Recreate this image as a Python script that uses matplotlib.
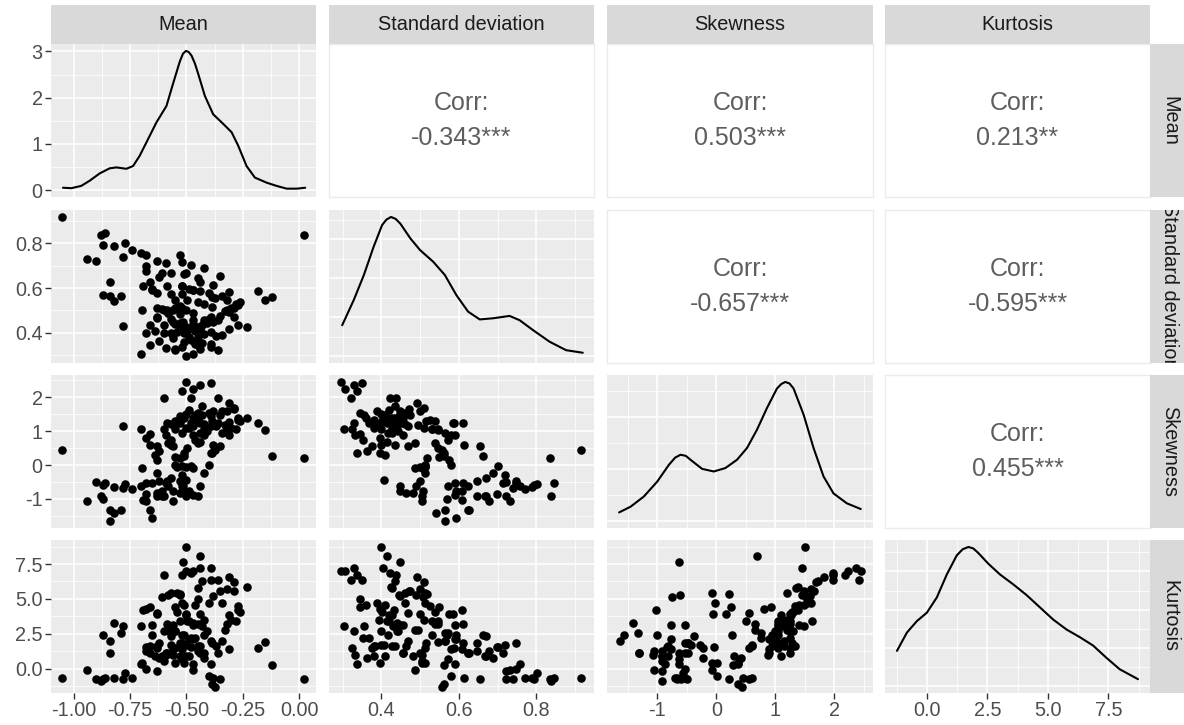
import matplotlib
matplotlib.use('Agg')
import matplotlib.pyplot as plt

plt.rcParams['font.family'] = ['Liberation Sans', 'DejaVu Sans']

W, H = 1184, 725

var_names = ['Mean', 'Standard deviation', 'Skewness', 'Kurtosis']

mean_vals = [
    -1.05, 0.02, -0.12, -0.18, -0.15, -0.23, -0.94, -0.90, -0.88, -0.86,
    -0.87, -0.82, -0.77, -0.74, -0.78, -0.84, -0.84, -0.79, -0.82, -0.78,
    -0.87, -0.70, -0.68, -0.65, -0.63, -0.59, -0.68, -0.68, -0.61, -0.62,
    -0.57, -0.51, -0.53, -0.52, -0.48, -0.42, -0.35, -0.38, -0.44, -0.52,
    -0.69, -0.65, -0.63, -0.585, -0.57, -0.47, -0.40, -0.385, -0.375, -0.495,
    -0.45, -0.42, -0.385, -0.695, -0.63, -0.585, -0.54, -0.63, -0.68, -0.66,
    -0.70, -0.60, -0.56, -0.52, -0.49, -0.47, -0.52, -0.45, -0.50, -0.66,
    -0.515, -0.56, -0.53, -0.50, -0.52, -0.47, -0.55, -0.50, -0.47, -0.44,
    -0.39, -0.52, -0.36, -0.45, -0.43, -0.55, -0.59, -0.39, -0.62, -0.56,
    -0.51, -0.48, -0.45, -0.50, -0.46, -0.48, -0.43, -0.38, -0.40, -0.35,
    -0.31, -0.29, -0.53, -0.60, -0.52, -0.47, -0.42, -0.39, -0.66, -0.63,
    -0.58, -0.57, -0.64, -0.44, -0.33, -0.30, -0.27, -0.26, -0.28, -0.32,
    -0.34, -0.31, -0.44, -0.29, -0.32, -0.39, -0.27, -0.31, -0.34, -0.45,
    -0.53, -0.57, -0.50, -0.55, -0.42, -0.49, -0.47, -0.41, -0.37, -0.44,
    -0.54, -0.36, -0.49, -0.51, -0.46, -0.55, -0.60, -0.61, -0.58, -0.53,
    -0.55, -0.50,
]
sd_vals = [
    0.916, 0.836, 0.561, 0.588, 0.546, 0.424, 0.731, 0.722, 0.837, 0.845,
    0.793, 0.788, 0.803, 0.770, 0.740, 0.625, 0.564, 0.564, 0.542, 0.430,
    0.570, 0.758, 0.748, 0.594, 0.722, 0.713, 0.699, 0.678, 0.669, 0.648,
    0.669, 0.663, 0.748, 0.718, 0.701, 0.688, 0.654, 0.613, 0.625, 0.609,
    0.609, 0.591, 0.576, 0.611, 0.573, 0.591, 0.579, 0.561, 0.556, 0.546,
    0.539, 0.531, 0.516, 0.504, 0.513, 0.501, 0.513, 0.464, 0.397, 0.345,
    0.304, 0.504, 0.504, 0.573, 0.594, 0.590, 0.611, 0.646, 0.667, 0.626,
    0.447, 0.449, 0.483, 0.406, 0.513, 0.487, 0.513, 0.296, 0.307, 0.329,
    0.350, 0.336, 0.322, 0.345, 0.355, 0.329, 0.332, 0.336, 0.364, 0.377,
    0.397, 0.367, 0.380, 0.400, 0.409, 0.423, 0.436, 0.449, 0.462, 0.475,
    0.492, 0.509, 0.415, 0.400, 0.418, 0.440, 0.457, 0.470, 0.436, 0.470,
    0.487, 0.400, 0.409, 0.415, 0.496, 0.509, 0.526, 0.539, 0.530, 0.547,
    0.564, 0.581, 0.586, 0.472, 0.501, 0.404, 0.434, 0.419, 0.390, 0.427,
    0.445, 0.462, 0.427, 0.440, 0.393, 0.419, 0.457, 0.444, 0.384, 0.427,
    0.402, 0.457, 0.382, 0.360, 0.352, 0.325, 0.437, 0.507, 0.490, 0.518,
    0.548, 0.500,
]
skew_vals = [
    0.45, 0.21, 0.28, 1.25, 1.03, 1.38, -1.05, -0.50, -0.92, -0.54,
    -0.60, -0.66, -0.56, -0.70, -0.67, -1.31, -1.64, -1.33, -1.41, 1.15,
    -1.00, -0.63, -0.53, -1.56, -0.92, -0.53, -0.84, -1.05, -0.92, -0.48,
    -0.38, 0.26, -0.48, -0.28, -0.04, -0.23, 0.55, 0.60, -0.63, -0.77,
    -1.03, -0.53, 0.16, 1.24, 0.75, 0.90, 0.01, 0.36, 0.43, 0.50,
    0.65, 1.05, 1.29, -0.08, -0.23, -0.48, -0.07, -0.82, 0.80, 0.93,
    1.05, -0.92, -1.07, -0.63, -0.77, -0.87, -0.53, -0.92, -0.92, -1.31,
    -0.63, -0.77, -0.82, -0.43, -0.02, -0.08, 0.01, 2.45, 2.23, 2.37,
    2.42, 2.18, 1.98, 1.54, 1.49, 1.24, 0.88, 0.36, 0.41, 0.55,
    0.36, 1.24, 1.34, 1.50, 1.49, 1.98, 1.73, 1.59, 1.54, 1.49,
    1.83, 1.69, 1.24, 1.05, 0.95, 1.14, 0.90, 1.14, 0.60, 0.55,
    0.65, 0.60, 0.30, 0.69, 1.19, 1.10, 1.34, 1.29, 1.05, 1.05,
    0.95, 0.90, 1.24, 1.65, 1.60, 1.45, 1.38, 1.27, 1.60, 1.35,
    1.45, 1.20, 1.10, 1.30, 1.20, 1.62, 1.40, 1.00, 1.15, 0.95,
    1.30, 1.25, 1.10, 1.40, 0.75, 1.05, 1.98, -0.75, -0.61, 0.21,
    0.25, -0.05,
]
kurt_vals = [
    -0.64, -0.76, 0.26, 1.50, 1.90, 5.83, -0.05, -0.70, -0.88, -0.69,
    -0.76, -0.64, -0.30, -0.69, -0.76, 1.14, 2.00, 2.57, 3.29, 3.10,
    2.45, 0.31, 0.02, 2.45, -0.17, 1.14, 1.55, 1.26, 0.90, 1.86,
    2.33, 2.45, 1.86, 1.74, 1.55, 0.79, -0.76, -0.64, 1.14, 1.45,
    4.24, 3.17, 3.93, 3.24, 2.57, 2.10, -0.52, -1.07, -1.31, 3.40,
    3.24, 2.45, 1.86, 0.43, 1.50, 1.14, 5.43, 1.62, 4.30, 4.40,
    3.05, 0.55, 1.02, 0.67, 2.10, 0.31, 1.86, 1.26, 0.90, 1.14,
    7.64, 3.17, 0.90, 1.74, 4.71, -0.05, 0.43, 6.98, 6.98, 7.20,
    6.38, 6.74, 6.38, 5.02, 3.05, 2.69, 1.02, 0.31, 0.79, 1.50,
    0.43, 2.21, 1.62, 8.69, 4.60, 6.86, 6.26, 5.19, 4.71, 5.55,
    6.55, 6.21, 3.40, 2.69, 2.45, 3.29, 1.14, 1.98, 1.62, 4.00,
    2.81, 1.74, 0.90, 8.05, 2.81, 3.52, 4.48, 4.07, 3.40, 3.24,
    1.98, 1.45, 3.93, 5.60, 5.74, 7.20, 4.24, 3.88, 4.71, 5.79,
    5.31, 5.43, 3.88, 2.69, 3.52, 3.40, 3.17, 2.69, 1.62, 1.62,
    4.07, 1.14, 0.90, 4.60, 2.21, 1.50, 6.74, 5.12, 5.26, 5.36,
    4.40, 3.93,
]

# density curves
mean_dens_x = [-1.047, -1.010, -0.966, -0.929, -0.884, -0.840, -0.810, -0.766, -0.736, -0.707,
               -0.677, -0.633, -0.588, -0.559, -0.529, -0.515, -0.502, -0.490, -0.477, -0.462,
               -0.447, -0.418, -0.381, -0.336, -0.299, -0.270, -0.233, -0.196, -0.144, -0.100,
               -0.055, -0.010, 0.027]
mean_dens_y = [0.05, 0.04, 0.09, 0.20, 0.36, 0.47, 0.49, 0.46, 0.52, 0.74,
               1.03, 1.46, 1.82, 2.30, 2.78, 2.95, 3.01, 2.99, 2.91, 2.74,
               2.51, 2.04, 1.64, 1.43, 1.25, 0.96, 0.52, 0.27, 0.16, 0.09,
               0.03, 0.03, 0.05]
sd_dens_x = [0.299, 0.329, 0.355, 0.380, 0.402, 0.413, 0.425, 0.437, 0.449, 0.475, 0.500,
             0.534, 0.564, 0.594, 0.624, 0.654, 0.689, 0.731, 0.757, 0.791, 0.834, 0.877, 0.920]
sd_dens_y = [0.79, 1.44, 2.08, 2.80, 3.36, 3.50, 3.57, 3.52, 3.40, 3.02, 2.72,
             2.42, 2.08, 1.56, 1.14, 0.94, 0.97, 1.03, 0.92, 0.67, 0.37, 0.15, 0.085]
skew_dens_x = [-1.65, -1.455, -1.23, -1.004, -0.807, -0.70, -0.609, -0.52, -0.44, -0.243, -0.045,
               0.152, 0.35, 0.519, 0.688, 0.857, 1.027, 1.10, 1.168, 1.24, 1.308, 1.478, 1.647,
               1.816, 1.985, 2.211, 2.448]
skew_dens_y = [0.033, 0.055, 0.094, 0.151, 0.215, 0.243, 0.254, 0.250, 0.235, 0.20, 0.19,
               0.203, 0.235, 0.28, 0.35, 0.433, 0.508, 0.525, 0.533, 0.527, 0.508, 0.408, 0.28,
               0.171, 0.106, 0.068, 0.046]
kurt_dens_x = [-1.236, -0.824, -0.412, 0.0, 0.412, 0.824, 1.236, 1.48, 1.717, 1.92, 2.129, 2.541,
               3.022, 3.571, 4.121, 4.670, 5.220, 5.769, 6.319, 6.868, 7.418, 7.967, 8.723]
kurt_dens_y = [0.046, 0.070, 0.085, 0.096, 0.116, 0.146, 0.171, 0.179, 0.182, 0.180, 0.174, 0.160,
               0.146, 0.133, 0.119, 0.103, 0.087, 0.074, 0.064, 0.053, 0.037, 0.022, 0.009]

corr_labels = ['-0.343***', '0.503***', '0.213**', '-0.657***', '-0.595***', '0.455***']

# axis setup per variable: limits, major ticks, tick labels, minor gridlines
scales = [
    dict(lim=(-1.10, 0.075), major=[-1, -0.75, -0.5, -0.25, 0],
         labels=['-1.00', '-0.75', '-0.50', '-0.25', '0.00'], minor=[-0.875, -0.625, -0.375, -0.125]),
    dict(lim=(0.265, 0.949), major=[0.4, 0.6, 0.8],
         labels=['0.4', '0.6', '0.8'], minor=[0.3, 0.5, 0.7, 0.9]),
    dict(lim=(-1.855, 2.655), major=[-1, 0, 1, 2],
         labels=['-1', '0', '1', '2'], minor=[-1.5, -0.5, 0.5, 1.5, 2.5]),
    dict(lim=(-1.73, 9.22), major=[0, 2.5, 5, 7.5],
         labels=['0.0', '2.5', '5.0', '7.5'], minor=[-1.25, 1.25, 3.75, 6.25, 8.75]),
]
dens_ticks = [
    ([0, 1, 2, 3], [0.5, 1.5, 2.5]),
    ([0, 1, 2, 3], [0.5, 1.5, 2.5, 3.5]),
    ([0, 0.2, 0.4], [0.1, 0.3, 0.5]),
    ([0, 0.05, 0.1, 0.15], [0.025, 0.075, 0.125, 0.175]),
]

data = [mean_vals, sd_vals, skew_vals, kurt_vals]
dens = [(mean_dens_x, mean_dens_y), (sd_dens_x, sd_dens_y),
        (skew_dens_x, skew_dens_y), (kurt_dens_x, kurt_dens_y)]

cols_px = [(51, 316), (329, 594), (607, 873), (885, 1150)]
rows_px = [(44, 197), (210, 363), (375, 528), (540, 693)]
strip_top = (5, 44)
strip_right = (1150, 1189)

BG = '#EBEBEB'
STRIP = '#D9D9D9'
TICK_TXT = '#4D4D4D'
FS = 14.3


def box(x0, y0, x1, y1):
    return [x0 / W, 1 - y1 / H, (x1 - x0) / W, (y1 - y0) / H]


fig = plt.figure(figsize=(W / 100, H / 100), dpi=100)

corr_i = 0
for i in range(4):
    for j in range(4):
        x0, x1 = cols_px[j]
        y0, y1 = rows_px[i]
        ax = fig.add_axes(box(x0, y0, x1, y1))
        if j > i:
            # upper triangle: correlation text
            ax.set_facecolor('white')
            for s in ax.spines.values():
                s.set_color(BG)
                s.set_linewidth(1.0)
            ax.set_xticks([])
            ax.set_yticks([])
            ax.text(0.5, 0.615, 'Corr:', ha='center', va='center', fontsize=18,
                    color='#5E5E5E', transform=ax.transAxes)
            ax.text(0.5, 0.385, corr_labels[corr_i], ha='center', va='center', fontsize=18,
                    color='#5E5E5E', transform=ax.transAxes)
            corr_i += 1
            continue

        ax.set_facecolor(BG)
        for s in ax.spines.values():
            s.set_visible(False)
        ax.set_axisbelow(True)
        sx = scales[j]
        ax.set_xlim(*sx['lim'])
        ax.set_xticks(sx['major'])
        ax.set_xticks(sx['minor'], minor=True)

        if i == j:
            dx, dy = dens[j]
            ax.plot(dx, dy, color='black', lw=1.5, solid_joinstyle='round', solid_capstyle='round')
            top = max(dy)
            ax.set_ylim(-0.05 * top, 1.05 * top)
            maj, mnr = dens_ticks[j]
            ax.set_yticks(maj)
            ax.set_yticks(mnr, minor=True)
            ylabels = [str(v) for v in maj]
        else:
            ax.scatter(data[j], data[i], s=38, color='black', linewidths=0)
            sy = scales[i]
            ax.set_ylim(*sy['lim'])
            ax.set_yticks(sy['major'])
            ax.set_yticks(sy['minor'], minor=True)
            ylabels = sy['labels']

        ax.grid(which='major', color='white', lw=1.1)
        ax.grid(which='minor', color='white', lw=0.55)
        ax.tick_params(which='minor', length=0)
        ax.tick_params(which='major', length=4, width=1, color='#333333',
                       labelsize=FS, labelcolor=TICK_TXT, pad=2)

        if j == 0:
            ax.set_yticklabels(ylabels)
        else:
            ax.tick_params(axis='y', which='major', length=0, labelleft=False)
        if i == 3:
            ax.set_xticklabels(sx['labels'])
        else:
            ax.tick_params(axis='x', which='major', length=0, labelbottom=False)

# strips
for j, name in enumerate(var_names):
    x0, x1 = cols_px[j]
    sax = fig.add_axes(box(x0, strip_top[0], x1, strip_top[1]))
    sax.set_facecolor(STRIP)
    sax.set_xticks([])
    sax.set_yticks([])
    for s in sax.spines.values():
        s.set_visible(False)
    sax.text(0.5, 0.5, name, ha='center', va='center', fontsize=FS, color='#1A1A1A',
             transform=sax.transAxes)

for i, name in enumerate(var_names):
    y0, y1 = rows_px[i]
    sax = fig.add_axes(box(strip_right[0], y0, strip_right[1], y1))
    sax.set_facecolor(STRIP)
    sax.set_xticks([])
    sax.set_yticks([])
    for s in sax.spines.values():
        s.set_visible(False)
    sax.text(0.5, 0.5, name, ha='center', va='center', fontsize=FS, color='#1A1A1A',
             rotation=270, transform=sax.transAxes, clip_on=True)

fig.savefig('out.png', dpi=100, facecolor='white')
